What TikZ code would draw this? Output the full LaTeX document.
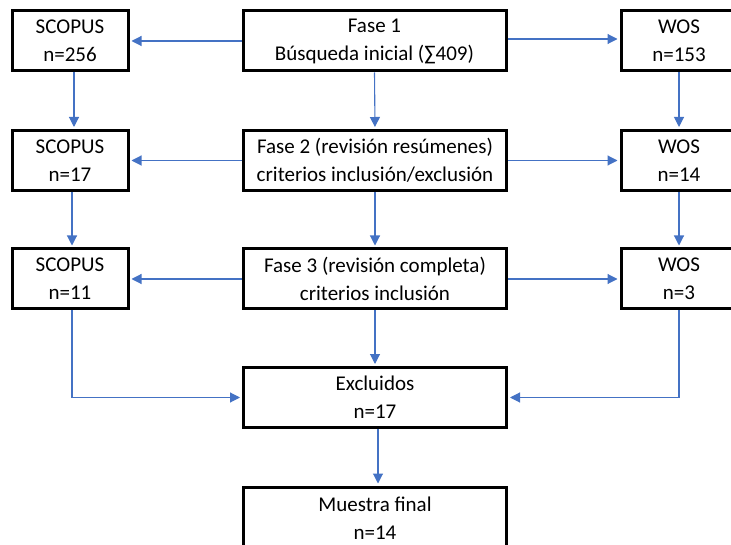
\documentclass[tikz,border=0pt]{standalone}
\usepackage{fontspec}
\setmainfont{Carlito}
\usetikzlibrary{arrows.meta}
\definecolor{arrowblue}{HTML}{4472C4}
\begin{document}
\begin{tikzpicture}[x=1pt,y=-1pt,
  box/.style={draw=black, line width=3pt, fill=white, minimum height=60pt, align=center,
    inner sep=0pt, font=\fontsize{21}{28}\selectfont},
  sidebox/.style={box, minimum width=116pt},
  midbox/.style={box, minimum width=263pt},
  conn/.style={draw=arrowblue, line width=1.1pt, -{Triangle[length=10pt,width=10pt]}, shorten >=2pt},
  plain/.style={draw=arrowblue, line width=1.1pt}]
\useasboundingbox (0,0) rectangle (731,545);
\clip (0,0) rectangle (731,545);
% row 1
\node[sidebox] (l1) at (70,41) {SCOPUS\\n=256};
\node[midbox] (c1) at (374.5,41) {Fase 1\\Búsqueda inicial (∑409)};
\node[sidebox] (r1) at (679,41) {WOS\\n=153};
% row 2
\node[sidebox] (l2) at (70,160.5) {SCOPUS\\n=17};
\node[midbox] (c2) at (375,160.5) {Fase 2 (revisión resúmenes)\\criterios inclusión/exclusión};
\node[sidebox] (r2) at (679,160.5) {WOS\\n=14};
% row 3
\node[sidebox] (l3) at (70,279) {SCOPUS\\n=11};
\node[midbox] (c3) at (375,279) {Fase 3 (revisión completa)\\criterios inclusión};
\node[sidebox] (r3) at (679,279) {WOS\\n=3};
% bottom
\node[midbox] (ex) at (375,397.5) {Excluidos\\n=17};
\node[midbox, minimum height=80pt, anchor=north, text depth=18pt] (mf) at (375,485.5) {Muestra final\\n=14};
% horizontal arrows
\draw[conn] (c1.west) -- (l1.east);
\draw[conn] ([yshift=2pt]c1.east) -- ([yshift=2pt]r1.west);
\draw[conn] (c2.west) -- (l2.east);
\draw[conn] (c2.east) -- (r2.west);
\draw[conn] (c3.west) -- (l3.east);
\draw[conn] (c3.east) -- (r3.west);
% vertical arrows
\draw[conn] ([xshift=4pt]l1.south) -- ([xshift=4pt]l2.north);
\draw[conn] ([xshift=2pt]l2.south) -- ([xshift=2pt]l3.north);
\draw[conn] (c1.south) -- (c2.north);
\draw[conn] (c2.south) -- (c3.north);
\draw[conn] (r1.south) -- (r2.north);
\draw[conn] (r2.south) -- (r3.north);
\draw[conn] (c3.south) -- (ex.north);
\draw[conn] ([xshift=3pt]ex.south) -- ([xshift=3pt]mf.north);
% merge to excluidos
\draw[conn] ([xshift=2pt]l3.south) |- (ex.west);
\draw[conn] (r3.south) |- (ex.east);
\end{tikzpicture}
\end{document}
